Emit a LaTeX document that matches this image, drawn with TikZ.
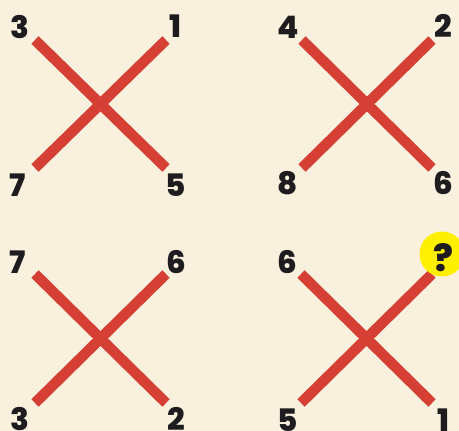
\documentclass[tikz,border=0pt]{standalone}
\usepackage{fontspec}
\setmainfont{Poppins}[BoldFont={Poppins ExtraBold}]
\usetikzlibrary{calc}
\definecolor{paper}{RGB}{249,241,222}
\definecolor{crossred}{RGB}{214,64,52}
\definecolor{qyellow}{RGB}{255,240,0}
\definecolor{ink}{RGB}{30,28,30}
\tikzset{
    bar/.style={
        crossred, line width=10.5pt
    },
    num/.style={
        font=\fontsize{31}{36}\selectfont\bfseries, text=ink, inner sep=0pt
    },
    qmark/.style={
        circle, fill=qyellow, minimum size=45pt, inner sep=0pt
    },
    qtext/.style={
        font=\fontsize{37}{40}\selectfont\bfseries, text=ink, inner sep=0pt
    }
}

\begin{document}
\begin{tikzpicture}[x=1pt,y=-1pt]

% --- page (pixel units, y downwards) ---
    \fill[paper] (0,0) rectangle (459,431);
    \useasboundingbox (0,0) rectangle (459,431);

% cross A (top left)
    \coordinate (A-nw) at (35,40);   \coordinate (A-ne) at (166,40);
    \coordinate (A-sw) at (35,168);  \coordinate (A-se) at (166,168);
    \draw[bar] (A-nw) -- (A-se);
    \draw[bar] (A-sw) -- (A-ne);
    \node[num] (A-3) at (20,27)  {3};
    \node[num] (A-1) at (175,26) {1};
    \node[num] (A-7) at (18,185) {7};
    \node[num] (A-5) at (176,185) {5};

% cross B (top right)
    \coordinate (B-nw) at (302,40);  \coordinate (B-ne) at (432,40);
    \coordinate (B-sw) at (302,168); \coordinate (B-se) at (432,168);
    \draw[bar] (B-nw) -- (B-se);
    \draw[bar] (B-sw) -- (B-ne);
    \node[num] (B-4) at (288,27)  {4};
    \node[num] (B-2) at (443,26)  {2};
    \node[num] (B-8) at (288,183) {8};
    \node[num] (B-6) at (443,183) {6};

% cross C (bottom left)
    \coordinate (C-nw) at (35,274);  \coordinate (C-ne) at (166,274);
    \coordinate (C-sw) at (35,403);  \coordinate (C-se) at (166,403);
    \draw[bar] (C-nw) -- (C-se);
    \draw[bar] (C-sw) -- (C-ne);
    \node[num] (C-7) at (18,262)  {7};
    \node[num] (C-6) at (176,262) {6};
    \node[num] (C-3) at (20,419)  {3};
    \node[num] (C-2) at (176,419) {2};

% cross D (bottom right, missing number)
    \coordinate (D-nw) at (301,274); \coordinate (D-ne) at (432,274);
    \coordinate (D-sw) at (301,403); \coordinate (D-se) at (432,403);
    \draw[bar] (D-nw) -- (D-se);
    \draw[bar] (D-sw) -- (D-ne);
    \node[num] (D-6) at (287,262) {6};
    \node[qmark] (D-q) at (442,254) {};
    \node[qtext] (D-qt) at (443,258) {?};
    \node[num] (D-5) at (288,420) {5};
    \node[num] (D-1) at (443,420) {1};

\end{tikzpicture}
\end{document}
